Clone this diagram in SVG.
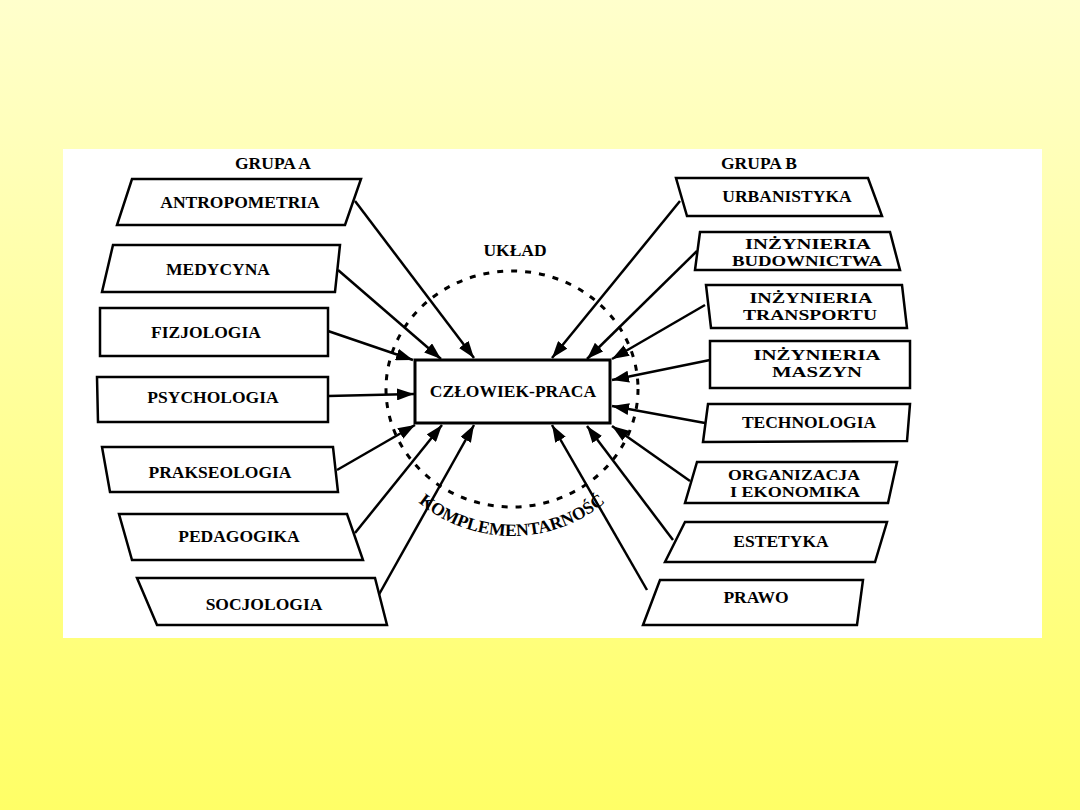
<svg xmlns="http://www.w3.org/2000/svg" width="1080" height="810" viewBox="0 0 1080 810">
<style>
.node{fill:#fff;stroke:#000;stroke-width:2.5;stroke-linejoin:miter}
.lbl{font-family:"Liberation Serif","Times New Roman",serif;font-weight:bold;font-size:17.5px;fill:#000;text-anchor:middle}
.lbl2{font-family:"Liberation Serif","Times New Roman",serif;font-weight:bold;font-size:14.5px;fill:#000;text-anchor:middle}
.conn line{stroke:#000;stroke-width:2.5;marker-end:url(#ah)}
</style>
<defs>
<linearGradient id="bg" x1="0" y1="0" x2="0" y2="1">
<stop offset="0" stop-color="#FFFFCC"/>
<stop offset="1" stop-color="#FFFF66"/>
</linearGradient>
<marker id="ah" markerWidth="17" markerHeight="12" refX="17" refY="6" orient="auto" markerUnits="userSpaceOnUse">
<path d="M0,0 L17,6 L0,12 z" fill="#000"/>
</marker>
<path id="arc" d="M366,390 A146,146 0 0,0 658,390"/>
</defs>
<rect x="0" y="0" width="1080" height="810" fill="url(#bg)"/>
<rect x="63" y="149" width="979" height="489" fill="#fff"/>

<text class="lbl" x="273" y="169">GRUPA A</text>
<text class="lbl" x="759" y="169">GRUPA B</text>

<g id="system">
<ellipse cx="512" cy="389" rx="126" ry="118" fill="none" stroke="#000" stroke-width="3" stroke-dasharray="6 8"/>
<text class="lbl" x="515" y="256">UKŁAD</text>
<text class="lbl"><textPath href="#arc" startOffset="50%">KOMPLEMENTARNOŚĆ</textPath></text>
</g>

<g class="conn" id="connectors">
<line x1="355" y1="201" x2="474" y2="358"/>
<line x1="338" y1="270" x2="441" y2="359"/>
<line x1="328" y1="331" x2="413" y2="360"/>
<line x1="328" y1="396" x2="414" y2="394"/>
<line x1="337" y1="470" x2="415" y2="425"/>
<line x1="355" y1="533" x2="442" y2="425"/>
<line x1="377" y1="598" x2="474" y2="425"/>
<line x1="680" y1="201" x2="552" y2="358"/>
<line x1="697" y1="251" x2="587" y2="359"/>
<line x1="705" y1="305" x2="612" y2="359"/>
<line x1="710" y1="360" x2="612" y2="380"/>
<line x1="705" y1="423" x2="612" y2="406"/>
<line x1="690" y1="481" x2="612" y2="426"/>
<line x1="673" y1="540" x2="587" y2="426"/>
<line x1="647" y1="590" x2="552" y2="425"/>
</g>

<g id="czlowiek-praca">
<rect x="415" y="360" width="195" height="63" fill="#fff" stroke="#000" stroke-width="3"/>
<text class="lbl" x="513" y="397">CZŁOWIEK-PRACA</text>
</g>

<g id="antropometria"><polygon class="node" points="132,179 361,179 345,225 117,225"/><text class="lbl" x="240" y="208">ANTROPOMETRIA</text></g>
<g id="medycyna"><polygon class="node" points="113,245 340,245 335,292 102,292"/><text class="lbl" x="218" y="275">MEDYCYNA</text></g>
<g id="fizjologia"><polygon class="node" points="100,308 328,308 328,356 100,356"/><text class="lbl" x="206" y="338">FIZJOLOGIA</text></g>
<g id="psychologia"><polygon class="node" points="97,377 328,377 328,422 98,422"/><text class="lbl" x="213" y="403">PSYCHOLOGIA</text></g>
<g id="prakseologia"><polygon class="node" points="102,447 333,447 338,492 110,492"/><text class="lbl" x="220" y="478">PRAKSEOLOGIA</text></g>
<g id="pedagogika"><polygon class="node" points="119,514 347,514 363,560 132,560"/><text class="lbl" x="239" y="542">PEDAGOGIKA</text></g>
<g id="socjologia"><polygon class="node" points="137,578 375,578 387,625 157,625"/><text class="lbl" x="264" y="610">SOCJOLOGIA</text></g>

<g id="urbanistyka"><polygon class="node" points="676,178 868,178 882,216 687,216"/><text class="lbl" x="787" y="202">URBANISTYKA</text></g>
<g id="inzynieria-budownictwa"><polygon class="node" points="700,232 890,232 900,270 695,270"/><text class="lbl2" x="808" y="249" textLength="126" lengthAdjust="spacingAndGlyphs">INŻYNIERIA</text><text class="lbl2" x="807" y="266" textLength="150" lengthAdjust="spacingAndGlyphs">BUDOWNICTWA</text></g>
<g id="inzynieria-transportu"><polygon class="node" points="706,285 902,285 907,328 711,328"/><text class="lbl2" x="811" y="303" textLength="123" lengthAdjust="spacingAndGlyphs">INŻYNIERIA</text><text class="lbl2" x="810" y="320" textLength="134" lengthAdjust="spacingAndGlyphs">TRANSPORTU</text></g>
<g id="inzynieria-maszyn"><polygon class="node" points="710,341 910,341 910,388 710,388"/><text class="lbl2" x="817" y="360" textLength="127" lengthAdjust="spacingAndGlyphs">INŻYNIERIA</text><text class="lbl2" x="817" y="377" textLength="90" lengthAdjust="spacingAndGlyphs">MASZYN</text></g>
<g id="technologia"><polygon class="node" points="708,404 910,404 907,441 703,442"/><text class="lbl" x="809" y="428">TECHNOLOGIA</text></g>
<g id="organizacja"><polygon class="node" points="697,462 897,462 888,503 685,503"/><text class="lbl2" x="794" y="480" textLength="132" lengthAdjust="spacingAndGlyphs">ORGANIZACJA</text><text class="lbl2" x="795" y="497" textLength="130" lengthAdjust="spacingAndGlyphs">I EKONOMIKA</text></g>
<g id="estetyka"><polygon class="node" points="685,522 887,522 875,562 665,562"/><text class="lbl" x="781" y="547">ESTETYKA</text></g>
<g id="prawo"><polygon class="node" points="660,580 863,580 857,625 643,625"/><text class="lbl" x="756" y="603">PRAWO</text></g>
</svg>
